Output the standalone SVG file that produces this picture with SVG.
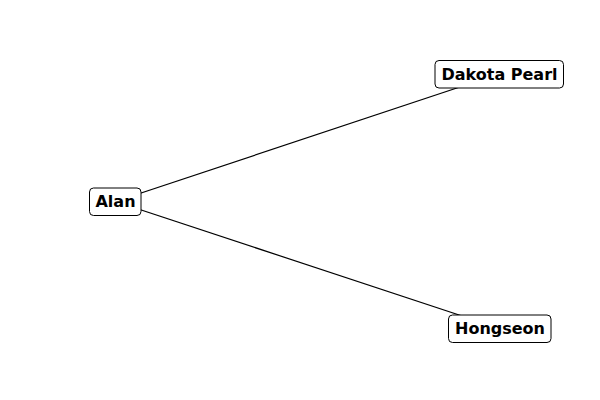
<svg xmlns="http://www.w3.org/2000/svg" width="600" height="400" viewBox="0 0 600 400">
<style>
.box{fill:#fff;stroke:#000;stroke-width:1}
.lbl{font-family:"DejaVu Sans",sans-serif;font-weight:bold;font-size:16px;text-anchor:middle;dominant-baseline:central;fill:#000}
.edge{stroke:#000;stroke-width:1.2;fill:none}
</style>
<rect width="600" height="400" fill="#fff"/>
<g id="edges">
<line class="edge" x1="115.5" y1="201.5" x2="499" y2="74"/>
<line class="edge" x1="115.5" y1="201.5" x2="500" y2="328.5"/>
</g>
<g id="alan">
<rect class="box" x="89.5" y="188" width="51.5" height="27.5" rx="4"/>
<text class="lbl" x="115.5" y="201.5">Alan</text>
</g>
<g id="dakota">
<rect class="box" x="435" y="60.5" width="128.5" height="27.5" rx="4"/>
<text class="lbl" x="499.5" y="74">Dakota Pearl</text>
</g>
<g id="hongseon">
<rect class="box" x="448.5" y="315" width="102.5" height="27.5" rx="4"/>
<text class="lbl" x="500" y="328.5">Hongseon</text>
</g>
</svg>
